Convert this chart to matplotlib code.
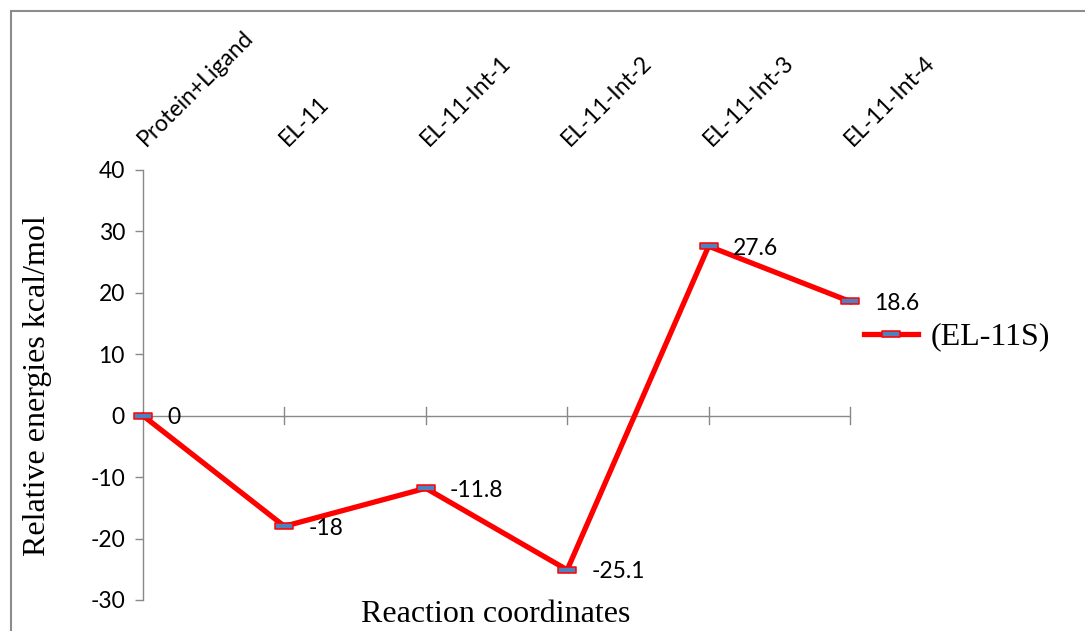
import matplotlib
matplotlib.use("Agg")
import matplotlib.pyplot as plt
from matplotlib.lines import Line2D
from matplotlib.path import Path
from matplotlib.transforms import blended_transform_factory, offset_copy

# Reaction profile data
categories = ["Protein+Ligand", "EL-11", "EL-11-Int-1", "EL-11-Int-2", "EL-11-Int-3", "EL-11-Int-4"]
energies = [0, -18, -11.8, -25.1, 27.6, 18.6]
value_labels = ["0", "-18", "-11.8", "-25.1", "27.6", "18.6"]
y_ticks = [40, 30, 20, 10, 0, -10, -20, -30]
series_name = "(EL-11S)"

sans = "Lato"
serif = "Liberation Serif"
sans_size = 16.5
serif_size = 23

W, H = 1085, 631
fig = plt.figure(figsize=(W / 100, H / 100), dpi=100)
fig.patch.set_facecolor("white")

# axes spans pixel box x: 143..850, y: 170..600
ax = fig.add_axes([143 / W, 1 - 600 / H, (850 - 143) / W, (600 - 170) / H])
ax.set_xlim(0, len(categories) - 1)
ax.set_ylim(-30, 40)
ax.set_facecolor("none")

for side in ["top", "right", "bottom"]:
    ax.spines[side].set_visible(False)
ax.spines["left"].set_color("#898989")
ax.spines["left"].set_linewidth(1.0)

ax.set_yticks(y_ticks)
ax.set_yticklabels([str(v) for v in y_ticks], fontfamily=sans, fontsize=sans_size)
ax.tick_params(axis="y", direction="out", length=6, width=1, color="#898989", pad=7)
ax.set_xticks([])

# horizontal category axis drawn at y = 0 with crossing ticks
ax.axhline(0, color="#898989", lw=1.0, zorder=1)
for i in range(1, len(categories)):
    ax.plot([i, i], [-1.4, 1.4], color="#898989", lw=1.0, zorder=1, clip_on=False)

# category names above the plot, rotated
top = blended_transform_factory(ax.transData, fig.transFigure)
for i, name in enumerate(categories):
    tr = offset_copy(top, fig=fig, x=3, y=0, units="dots")
    ax.text(i, 1 - 147 / H, name, transform=tr, rotation=45, rotation_mode="anchor",
            ha="left", va="baseline", fontfamily=sans, fontsize=sans_size, clip_on=False)

# flat rectangular marker
rect = Path([(-1, -0.28), (1, -0.28), (1, 0.28), (-1, 0.28), (-1, -0.28)],
            [Path.MOVETO, Path.LINETO, Path.LINETO, Path.LINETO, Path.CLOSEPOLY])

xs = list(range(len(categories)))
line, = ax.plot(xs, energies, color="#ff0000", lw=3.8, solid_joinstyle="miter",
                marker=rect, markersize=13.5, markerfacecolor="#4f81bd",
                markeredgecolor="#ff0000", markeredgewidth=1.1, zorder=3, clip_on=False,
                label=series_name)

for x, y, lab in zip(xs, energies, value_labels):
    ax.annotate(lab, (x, y), xytext=(24, -2), textcoords="offset pixels",
                ha="left", va="center", fontfamily=sans, fontsize=sans_size)

fig.text(38 / W, 1 - 386 / H, "Relative energies kcal/mol", fontfamily=serif,
         fontsize=serif_size, rotation=90, ha="center", va="center")
fig.text(496 / W, 1 - 614 / H, "Reaction coordinates", fontfamily=serif, fontsize=serif_size,
         ha="center", va="center")

leg = fig.legend(handles=[line], loc="center left", bbox_to_anchor=(864 / W, 1 - 337 / H),
                 frameon=False, prop={"family": serif, "size": serif_size}, handlelength=1.7,
                 handletextpad=0.4, borderaxespad=0, borderpad=0)

# outer chart frame (top and left edges)
fig.add_artist(Line2D([11 / W, 1], [1 - 11 / H, 1 - 11 / H], transform=fig.transFigure,
                      color="#8c8c8c", lw=1.5))
fig.add_artist(Line2D([11 / W, 11 / W], [0, 1 - 11 / H], transform=fig.transFigure,
                      color="#8c8c8c", lw=1.5))

fig.savefig("out.png", dpi=100)
